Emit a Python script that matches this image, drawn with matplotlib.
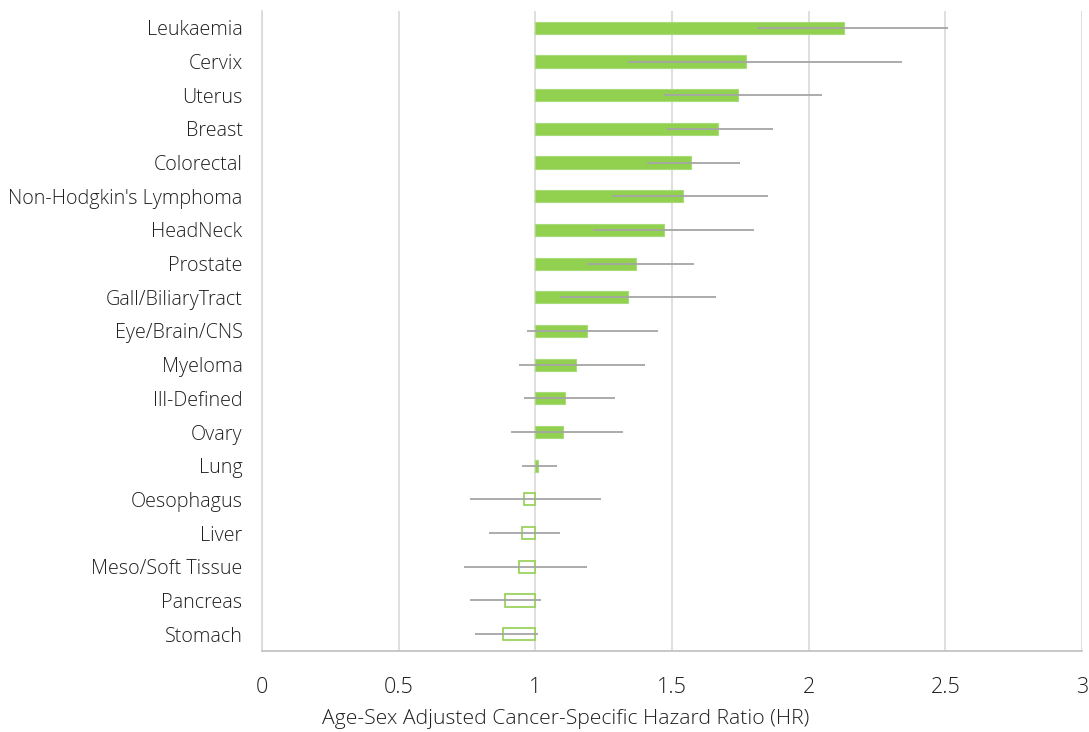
import matplotlib.pyplot as plt
import numpy as np

cancers = [
    "Leukaemia", "Cervix", "Uterus", "Breast", "Colorectal",
    "Non-Hodgkin's Lymphoma", "HeadNeck", "Prostate", "Gall/BiliaryTract",
    "Eye/Brain/CNS", "Myeloma", "Ill-Defined", "Ovary", "Lung",
    "Oesophagus", "Liver", "Meso/Soft Tissue", "Pancreas", "Stomach",
]
hr = [2.13, 1.77, 1.74, 1.67, 1.57, 1.54, 1.47, 1.37, 1.34,
      1.19, 1.15, 1.11, 1.10, 1.01, 0.96, 0.95, 0.94, 0.89, 0.88]
ci_low = [1.81, 1.34, 1.47, 1.48, 1.41, 1.28, 1.21, 1.19, 1.09,
          0.97, 0.94, 0.96, 0.91, 0.95, 0.76, 0.83, 0.74, 0.76, 0.78]
ci_high = [2.51, 2.34, 2.05, 1.87, 1.75, 1.85, 1.80, 1.58, 1.66,
           1.45, 1.40, 1.29, 1.32, 1.08, 1.24, 1.09, 1.19, 1.02, 1.01]

GREEN = "#92D050"
GREY = "#A5A5A5"
TEXT = "#1F1F1F"

plt.rcParams["font.family"] = ["Open Sans", "DejaVu Sans"]
plt.rcParams["font.weight"] = "light"

fig = plt.figure(figsize=(10.89, 7.32), dpi=100)
ax = fig.add_axes([0.2406, 0.1107, 0.7530, 0.8743])

hr = np.array(hr)
y = np.arange(len(cancers))
above = hr >= 1

# bars grow out of HR = 1; protective ones are drawn hollow
ax.barh(y[above], hr[above] - 1, left=1, height=0.36,
        color=GREEN, edgecolor="#A8DC78", linewidth=0.8, zorder=2)
ax.barh(y[~above], hr[~above] - 1, left=1, height=0.36,
        facecolor="white", edgecolor=GREEN, linewidth=1.2, zorder=2)

xerr = [hr - np.array(ci_low), np.array(ci_high) - hr]
ax.errorbar(hr, y, xerr=xerr, fmt="none", ecolor=GREY, elinewidth=1.3,
            capsize=0, zorder=3)

ax.set_xlim(0, 3)
ax.set_ylim(len(cancers) - 0.5, -0.5)
ax.set_xticks(np.arange(0, 3.01, 0.5))
ax.set_xticklabels(["0", "0.5", "1", "1.5", "2", "2.5", "3"])
ax.set_yticks(y)
ax.set_yticklabels(cancers)

ax.grid(axis="x", color="#D9D9D9", linewidth=1.2, zorder=0)
ax.set_axisbelow(True)
for side in ["top", "right"]:
    ax.spines[side].set_visible(False)
ax.spines["left"].set_color("#D9D9D9")
ax.spines["bottom"].set_color("#BFBFBF")
ax.spines["left"].set_linewidth(1.2)
ax.spines["bottom"].set_linewidth(1.2)

ax.tick_params(axis="y", length=0, labelsize=14.2, pad=14, labelcolor=TEXT)
ax.tick_params(axis="x", length=0, labelsize=15.5, pad=19, labelcolor=TEXT)
ax.set_xlabel("Age-Sex Adjusted Cancer-Specific Hazard Ratio (HR)",
              fontsize=15.2, fontweight="light", color=TEXT, va="center")
ax.xaxis.set_label_coords(0.37, -0.107)

fig.savefig("out.png", dpi=100)
